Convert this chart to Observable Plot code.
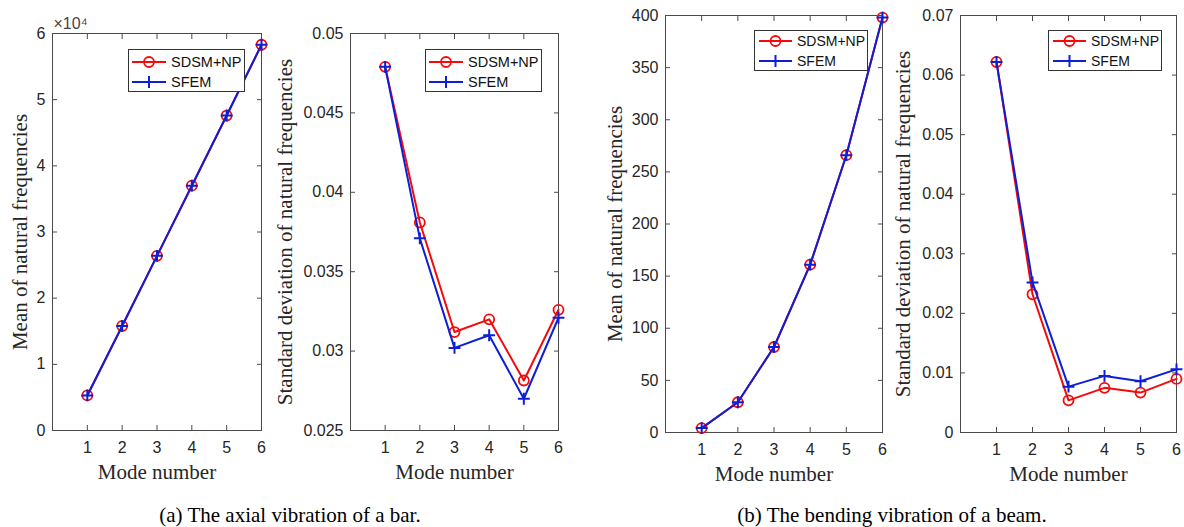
<!DOCTYPE html>
<html><head><meta charset="utf-8">
<script src="https://cdn.jsdelivr.net/npm/d3@7"></script>
<script src="https://cdn.jsdelivr.net/npm/@observablehq/plot@0.6"></script>
<style>
body{margin:0;background:#fff;}
#root{position:relative;width:1184px;height:527px;overflow:hidden;background:#fff;}
.panel{position:absolute;top:0;}
.serif text{font-family:"Liberation Serif","Times New Roman",serif !important;}
.cap{position:absolute;top:503px;line-height:24px;font-family:"Liberation Serif","Times New Roman",serif;font-size:21px;color:#000;white-space:nowrap;transform:translateX(-50%);}
</style></head><body><div id="root"></div>
<script>
// ---- data ----
const modes = [1, 2, 3, 4, 5, 6];
const seriesNames = ["SDSM+NP", "SFEM"];
const barMeanSDSM = [5300, 15800, 26400, 37000, 47600, 58300];
const barMeanSFEM = [5300, 15800, 26400, 37000, 47600, 58300];
const barStdSDSM = [0.0479, 0.0381, 0.0312, 0.0320, 0.02815, 0.0326];
const barStdSFEM = [0.0479, 0.0371, 0.0302, 0.0310, 0.0270, 0.0321];
const beamMeanSDSM = [4.2, 29, 82, 161, 266, 398];
const beamMeanSFEM = [4.2, 29, 82, 161, 266, 398];
const beamStdSDSM = [0.0622, 0.0232, 0.0054, 0.0075, 0.0067, 0.0090];
const beamStdSFEM = [0.0622, 0.0252, 0.0077, 0.0095, 0.0086, 0.0106];
const xTicks = [1, 2, 3, 4, 5, 6];
const barMeanTicks = [0, 10000, 20000, 30000, 40000, 50000, 60000];
const barStdTicks = [0.025, 0.03, 0.035, 0.04, 0.045, 0.05];
const beamMeanTicks = [0, 50, 100, 150, 200, 250, 300, 350, 400];
const beamStdTicks = [0, 0.01, 0.02, 0.03, 0.04, 0.05, 0.06, 0.07];
const xLabel = "Mode number";
const meanLabel = "Mean of natural frequencies";
const stdLabel = "Standard deviation of natural frequencies";
const captions = ["(a) The axial vibration of a bar.", "(b) The bending vibration of a beam."];

const RED = "#f50a0a", BLUE = "#0d1fd6", AX = "#4a4a4a", TXT = "#262626";
const SERIF = "Liberation Serif, Times New Roman, serif";
const root = document.getElementById("root");

function rows(vals) { return modes.map((m, i) => ({mode: m, v: vals[i]})); }

function panel(c) {
  const s1 = rows(c.sdsm), s2 = rows(c.sfem);
  const marks = [
    Plot.frame({stroke: AX, strokeWidth: 1}),
    Plot.axisX({anchor: "bottom", ticks: xTicks, tickSize: -5, tickPadding: 16, tickFormat: d => String(d), label: null, stroke: AX, fill: TXT, fontSize: 16}),
    Plot.axisX({anchor: "top", ticks: xTicks, tickSize: -5, tickFormat: () => "", label: null, stroke: AX}),
    Plot.axisY({anchor: "left", ticks: c.yTicks, tickSize: -5, tickPadding: 12, tickFormat: c.yFmt, label: null, stroke: AX, fill: TXT, fontSize: 16}),
    Plot.axisY({anchor: "right", ticks: c.yTicks, tickSize: -5, tickFormat: () => "", label: null, stroke: AX}),
    Plot.line(s1, {x: "mode", y: "v", stroke: RED, strokeWidth: 2}),
    Plot.dot(s1, {x: "mode", y: "v", r: 5, stroke: RED, strokeWidth: 1.8, fill: "none"}),
    Plot.line(s2, {x: "mode", y: "v", stroke: BLUE, strokeWidth: 2}),
    Plot.dot(s2, {x: "mode", y: "v", r: 3.9, symbol: "plus", stroke: BLUE, strokeWidth: 2, fill: "none"}),
    Plot.text([c.ylabel], {className: "serif", frameAnchor: "left", rotate: -90, dx: -c.yOff, textAnchor: "middle", lineAnchor: "middle", fontFamily: SERIF, fontSize: 21, fill: TXT}),
    Plot.text([xLabel], {className: "serif", frameAnchor: "bottom", dy: 42, textAnchor: "middle", lineAnchor: "middle", fontFamily: SERIF, fontSize: 21, fill: TXT})
  ];
  if (c.exp) marks.push(Plot.text([c.exp], {frameAnchor: "top-left", dy: -10, dx: 1, textAnchor: "start", lineAnchor: "middle", fontSize: 16, fill: "#444"}));
  const p = Plot.plot({
    width: c.width, height: c.height,
    marginTop: c.mt, marginBottom: c.mb, marginLeft: c.ml, marginRight: c.mr,
    style: {background: "transparent", fontFamily: "Liberation Sans, Arial, sans-serif", fontSize: "16px", color: TXT, overflow: "visible"},
    x: {domain: [0, 6]},
    y: {domain: c.yDomain},
    marks
  });
  p.classList.add("panel");
  p.style.left = c.left + "px";
  d3.select(p).selectAll("g.serif text").style("font-family", SERIF);
  // legend
  const L = c.leg;
  const fr = c.width - c.mr;
  const bx = fr - L.gapR - L.w, by = c.mt + L.gapT;
  const g = d3.select(p).append("g").attr("transform", `translate(${bx},${by})`).attr("text-anchor", "start");
  g.append("rect").attr("x", 0.5).attr("y", 0.5).attr("width", L.w).attr("height", L.h).attr("fill", "white").attr("stroke", "#333").attr("stroke-width", 1);
  const cols = [RED, BLUE];
  seriesNames.forEach((name, i) => {
    const y = L.r0 + i * 20;
    g.append("line").attr("x1", L.l0).attr("x2", L.l1).attr("y1", y).attr("y2", y).attr("stroke", cols[i]).attr("stroke-width", 2);
    const cx = (L.l0 + L.l1) / 2;
    if (i === 0) g.append("circle").attr("cx", cx).attr("cy", y).attr("r", 5).attr("fill", "none").attr("stroke", RED).attr("stroke-width", 1.8);
    else g.append("path").attr("transform", `translate(${cx},${y})`).attr("d", d3.symbol(d3.symbolPlus, 3.9 * 3.9 * Math.PI)()).attr("fill", "none").attr("stroke", BLUE).attr("stroke-width", 2);
    g.append("text").attr("x", L.t0).attr("y", y).attr("dy", "0.35em").attr("text-anchor", "start").attr("font-family", "Liberation Sans, Arial, sans-serif").attr("font-size", L.fs).attr("fill", "#111").text(name);
  });
  root.appendChild(p);
}

const fmt = d => String(+d.toFixed(4));
const legA = {w: 116, h: 42, gapR: 17, gapT: 16, r0: 13, l0: 4, l1: 38, t0: 43, fs: 14.5};
const legB = {w: 113, h: 40, gapR: 15, gapT: 15, r0: 11, l0: 5, l1: 38, t0: 43, fs: 14};

panel({left: 0, width: 300, height: 490, mt: 33, mb: 60, ml: 52, mr: 39,
  yDomain: [0, 60000], yTicks: barMeanTicks, yFmt: d => String(d / 10000),
  sdsm: barMeanSDSM, sfem: barMeanSFEM, ylabel: meanLabel, yOff: 32, exp: "×10⁴", leg: legA});
panel({left: 270, width: 330, height: 490, mt: 33, mb: 60, ml: 80, mr: 42,
  yDomain: [0.025, 0.05], yTicks: barStdTicks, yFmt: fmt,
  sdsm: barStdSDSM, sfem: barStdSFEM, ylabel: stdLabel, yOff: 65, leg: legA});
panel({left: 595, width: 300, height: 490, mt: 15, mb: 58, ml: 70, mr: 13,
  yDomain: [0, 400], yTicks: beamMeanTicks, yFmt: d => String(d),
  sdsm: beamMeanSDSM, sfem: beamMeanSFEM, ylabel: meanLabel, yOff: 50, leg: legB});
panel({left: 890, width: 294, height: 490, mt: 15, mb: 58, ml: 70, mr: 8,
  yDomain: [0, 0.07], yTicks: beamStdTicks, yFmt: fmt,
  sdsm: beamStdSDSM, sfem: beamStdSFEM, ylabel: stdLabel, yOff: 57, leg: legB});

[[290, captions[0]], [892, captions[1]]].forEach(([x, t]) => {
  const d = document.createElement("div");
  d.className = "cap"; d.style.left = x + "px"; d.textContent = t;
  root.appendChild(d);
});
</script></body></html>
